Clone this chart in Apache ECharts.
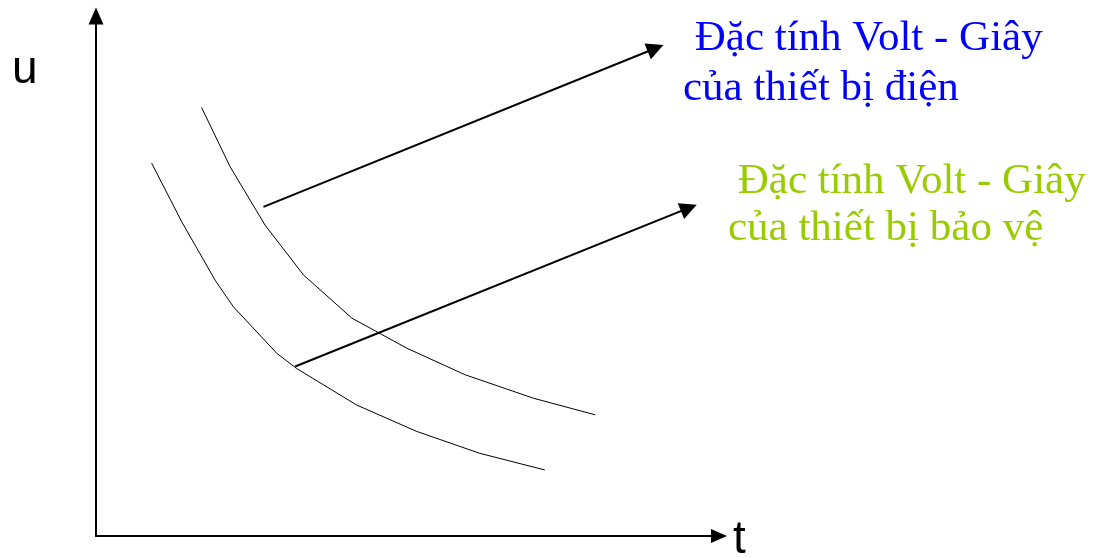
<!DOCTYPE html>
<html>
<head>
<meta charset="utf-8">
<title>Đặc tính Volt - Giây</title>
<script src="https://cdn.jsdelivr.net/npm/echarts@6/dist/echarts.min.js"></script>
<style>
  html, body { margin: 0; padding: 0; background: #fff; }
  #chart { width: 1093px; height: 558px; }
</style>
</head>
<body>
<div id="chart"></div>
<script>
// Đặc tính Volt - Giây: thiết bị điện (trên) và thiết bị bảo vệ (dưới)
// đơn vị tùy ý, 52px cho mỗi đơn vị trên cả hai trục

const deviceCurve = [
  [2.03, 8.24], [2.58, 7.10], [3.25, 5.98], [3.99, 5.02], [4.92, 4.19],
  [5.98, 3.61], [7.10, 3.10], [8.41, 2.65], [9.60, 2.33]
]
const protectionCurve = [
  [1.07, 7.17], [1.65, 6.04], [2.29, 4.92], [2.64, 4.41], [3.48, 3.51],
  [3.86, 3.22], [5.01, 2.52], [6.17, 2.01], [7.38, 1.59], [8.63, 1.27]
]
// mũi tên chú thích: [điểm đầu, điểm cuối]
const deviceArrow = [[3.22, 6.33], [10.76, 9.38]]
const protectionArrow = [[3.83, 3.26], [11.40, 6.31]]

const deviceLabel = [' Đặc tính Volt - Giây', 'của thiết bị điện']
const protectionLabel = [' Đặc tính Volt - Giây', 'của thiết bị bảo vệ']
const axisNames = ['t', 'u']
const axisMax = [11.98, 10]

const chart = echarts.init(document.getElementById('chart'), null, { renderer: 'canvas' })

const serif = '"Liberation Serif", "Times New Roman", serif'
const sans = '"Liberation Sans", Arial, sans-serif'

function textEl(text, left, top, color, size, family) {
  return {
    type: 'text',
    left: left,
    top: top,
    style: {
      text: text,
      fill: color,
      font: size + 'px ' + family
    }
  }
}

const option = {
  backgroundColor: '#fff',
  animation: false,
  grid: {
    left: 96,
    right: 374,
    top: 16,
    bottom: 22
  },
  xAxis: {
    type: 'value',
    min: 0,
    max: axisMax[0],
    axisLine: {
      lineStyle: { color: '#000', width: 2 },
      symbol: ['none', 'triangle'],
      symbolSize: [14, 16]
    },
    axisTick: { show: false },
    axisLabel: { show: false },
    splitLine: { show: false }
  },
  yAxis: {
    type: 'value',
    min: 0,
    max: axisMax[1],
    axisLine: {
      show: true,
      lineStyle: { color: '#000', width: 2 },
      symbol: ['none', 'triangle'],
      symbolSize: [15, 17]
    },
    axisTick: { show: false },
    axisLabel: { show: false },
    splitLine: { show: false }
  },
  series: [
    {
      name: 'thiết bị điện',
      type: 'line',
      data: deviceCurve,
      symbol: 'none',
      smooth: false,
      lineStyle: { color: '#000', width: 1 }
    },
    {
      name: 'thiết bị bảo vệ',
      type: 'line',
      data: protectionCurve,
      symbol: 'none',
      smooth: false,
      lineStyle: { color: '#000', width: 1 }
    },
    {
      name: 'chú thích',
      type: 'lines',
      coordinateSystem: 'cartesian2d',
      symbol: ['none', 'triangle'],
      symbolSize: [13, 17],
      lineStyle: { color: '#000', width: 2, opacity: 1 },
      data: [
        { coords: deviceArrow },
        { coords: protectionArrow }
      ]
    }
  ],
  graphic: [
    textEl(axisNames[1], 12, 47, '#000', 46, sans),
    textEl(axisNames[0], 733, 517, '#000', 46, sans),
    textEl(deviceLabel[0], 684, 17, '#0000ff', 43, serif),
    textEl(deviceLabel[1], 683, 67, '#0000ff', 43, serif),
    textEl(protectionLabel[0], 727, 160, '#99cc00', 43, serif),
    textEl(protectionLabel[1], 728, 207, '#99cc00', 43, serif)
  ]
}

chart.setOption(option)
window.addEventListener('resize', () => chart.resize())
</script>
</body>
</html>
